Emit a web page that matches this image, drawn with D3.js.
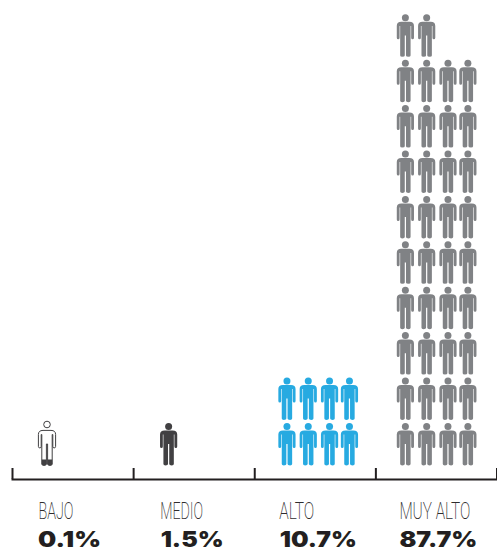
<!DOCTYPE html>
<html lang="es">
<head>
<meta charset="utf-8">
<script src="https://cdn.jsdelivr.net/npm/d3@7"></script>
<style>
  html, body { margin: 0; padding: 0; background: #fff; }
  svg { display: block; }
  .name { font-family: "Roboto", sans-serif; font-weight: 200; font-size: 23px; fill: #2e2c2d; }
  .share { font-family: "Inter", sans-serif; font-weight: 900; font-size: 21.5px; fill: #231f20; }
</style>
</head>
<body>
<svg id="chart" width="497" height="549"></svg>
<script>
// Population share by risk level, one pictogram per unit
const levels = ["BAJO", "MEDIO", "ALTO", "MUY ALTO"];
const shares = ["0.1%", "1.5%", "10.7%", "87.7%"];
const figureCounts = [1, 1, 8, 38];
const figureColors = ["#ffffff", "#414042", "#27aae1", "#808285"];

const labelWidths = [35, 43, 35, 71];
const shareWidths = [63, 63, 77, 78];
const labelInset = [26.5, 27, 25, 24];
const shareInset = [26, 27.5, 25.5, 24];
const firstFigureInset = [35, 35.5, 32.7, 30];

const COLUMNS = 4;
const svg = d3.select("#chart");

// Horizontal axis: four equal bands, ticks on the band edges
const axisScale = d3.scaleLinear().domain([0, levels.length]).range([12, 496.5]);
const band = d3.scaleBand().domain(levels).range(axisScale.range());

svg.append("g")
  .attr("transform", "translate(0,479)")
  .call(d3.axisTop(axisScale).ticks(levels.length).tickSize(11).tickSizeOuter(0).tickFormat(""))
  .call(g => {
    g.selectAll("path, line").attr("stroke", "#231f20").attr("stroke-width", 2);
    g.select(".domain").attr("stroke-linecap", "square");
  });

// Columns are packed a little tighter towards the right
const colX = d3.scaleLinear().domain([0, 1, 2, 3]).range([0, 21.3, 42.6, 62.5]);
const rowY = d3.scaleLinear().domain([0, 9]).range([423, 14.4]);

// Person glyph, origin at the top of the head on the vertical axis
const person = [
  "M-4,7.4 L4,7.4 Q8.6,7.4 8.6,11.5 L8.6,23.4 Q8.6,24.9 7.2,24.9 Q5.8,24.9 5.8,23.4 L5.8,11.5 L5.2,11.5",
  "L5.2,41 Q5.2,42.4 3.1,42.4 Q0.6,42.4 0.6,41 L0.6,21 L-0.6,21 L-0.6,41 Q-0.6,42.4 -3.1,42.4",
  "Q-5.2,42.4 -5.2,41 L-5.2,11.5 L-5.8,11.5 L-5.8,23.4 Q-5.8,24.9 -7.2,24.9 Q-8.6,24.9 -8.6,23.4",
  "L-8.6,11.5 Q-8.6,7.4 -4,7.4 Z"
].join(" ");

svg.append("defs").append("clipPath").attr("id", "feet")
  .append("rect").attr("x", -10).attr("y", 36.5).attr("width", 20).attr("height", 8);

levels.forEach((level, i) => {
  const left = band(level);
  const figures = d3.range(figureCounts[i]).map(n => ({
    col: n % COLUMNS,
    row: Math.floor(n / COLUMNS)
  }));

  const g = svg.append("g").selectAll("g").data(figures).join("g")
    .attr("transform", d => `translate(${left + firstFigureInset[i] + colX(d.col)},${rowY(d.row)})`);

  if (i === 0) {
    // Lowest level: hollow figure with only the feet filled in
    g.append("circle").attr("cy", 1.5).attr("r", 3.3).attr("fill", "#fff").attr("stroke", "#414042").attr("stroke-width", 1);
    g.append("path").attr("d", person).attr("fill", "#fff").attr("stroke", "#414042").attr("stroke-width", 1);
    g.append("path").attr("d", person).attr("fill", "#414042").attr("clip-path", "url(#feet)");
  } else {
    g.append("circle").attr("cy", 3.4).attr("r", 3.5).attr("fill", figureColors[i]);
    g.append("path").attr("d", person).attr("fill", figureColors[i]);
  }

  // Level name and its share underneath
  svg.append("text").attr("class", "name")
    .attr("x", left + labelInset[i]).attr("y", 519)
    .attr("textLength", labelWidths[i]).attr("lengthAdjust", "spacingAndGlyphs")
    .text(level);
  svg.append("text").attr("class", "share")
    .attr("x", left + shareInset[i]).attr("y", 547)
    .attr("textLength", shareWidths[i]).attr("lengthAdjust", "spacingAndGlyphs")
    .text(shares[i]);
});
</script>
</body>
</html>
